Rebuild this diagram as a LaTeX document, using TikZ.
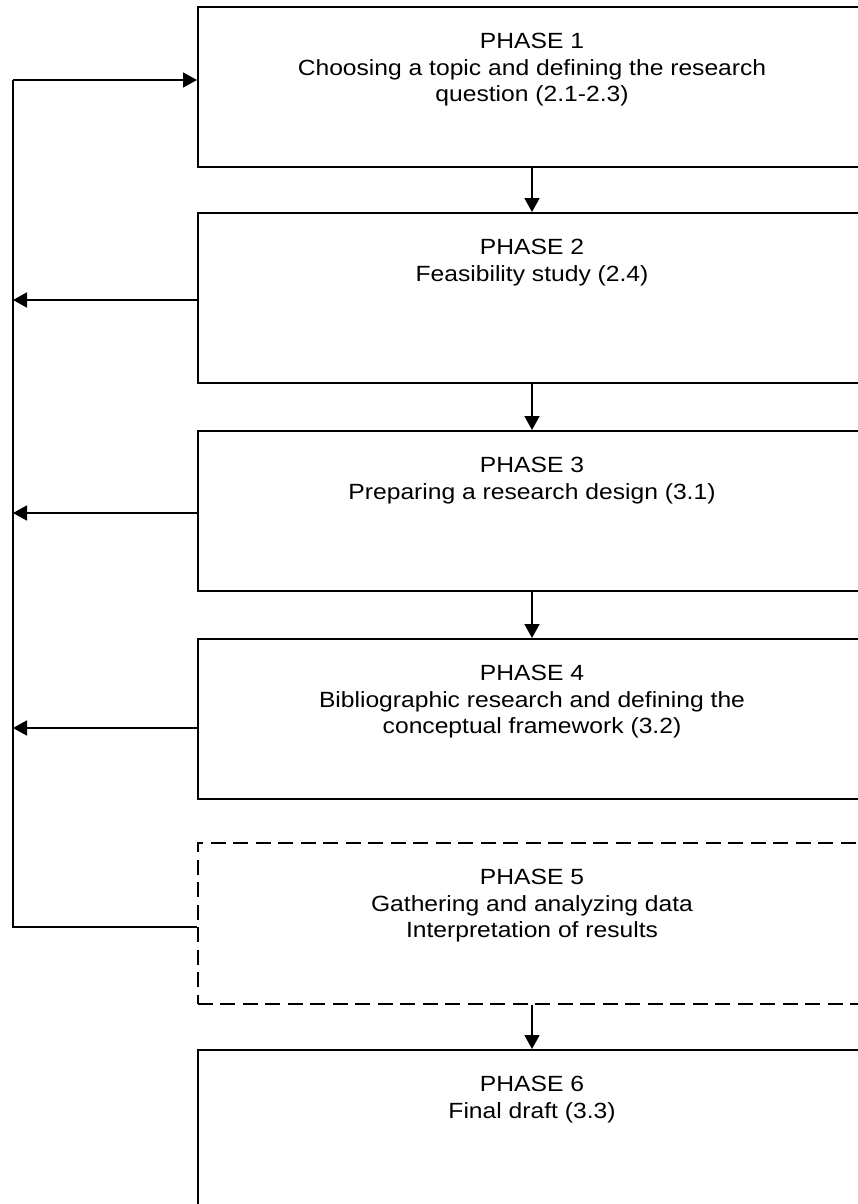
\documentclass[tikz,border=0pt]{standalone}
\usepackage{fontspec}
\setmainfont{Liberation Sans}[FakeStretch=1.12]
\usetikzlibrary{arrows.meta}
\begin{document}
\begin{tikzpicture}[x=1pt,y=-1pt,
  phasebox/.style={draw=black, line width=1.8pt, minimum width=676pt, anchor=north west, inner sep=0pt},
  dashbox/.style={phasebox, dash pattern=on 15pt off 7.5pt},
  phasetext/.style={anchor=north, inner sep=0pt, align=center, font=\fontsize{22}{26.5}\selectfont},
  conn/.style={line width=1.8pt, -{Triangle[length=14pt,width=15pt]}},
  plain/.style={line width=1.8pt}]
\useasboundingbox (0,0) rectangle (858,1204);
\clip (0,0) rectangle (858,1204);
\node[phasebox, minimum height=160pt] (b1) at (197,6) {};
\node[phasebox, minimum height=170pt] (b2) at (197,212) {};
\node[phasebox, minimum height=160pt] (b3) at (197,430) {};
\node[phasebox, minimum height=160pt] (b4) at (197,638) {};
\node[dashbox, minimum height=161pt] (b5) at (197,842) {};
\node[phasebox, minimum height=200pt] (b6) at (197,1049) {};
\node[phasetext] (t1) at (532,33) {PHASE 1\\Choosing a topic and defining the research\\question (2.1-2.3)};
\node[phasetext] (t2) at (532,239) {PHASE 2\\Feasibility study (2.4)};
\node[phasetext] (t3) at (532,457) {PHASE 3\\Preparing a research design (3.1)};
\node[phasetext] (t4) at (532,665) {PHASE 4\\Bibliographic research and defining the\\conceptual framework (3.2)};
\node[phasetext] (t5) at (532,869) {PHASE 5\\Gathering and analyzing data\\Interpretation of results};
\node[phasetext] (t6) at (532,1076) {PHASE 6\\Final draft (3.3)};
% downward arrows
\coordinate (ax) at (532,0);
\draw[conn] (ax |- b1.south) -- (ax |- b2.north);
\draw[conn] (ax |- b2.south) -- (ax |- b3.north);
\draw[conn] (ax |- b3.south) -- (ax |- b4.north);
\draw[conn] (ax |- b5.south) -- (ax |- b6.north);
% feedback loop
\coordinate (l1) at (13,80);
\coordinate (l2) at (13,300);
\coordinate (l3) at (13,513);
\coordinate (l4) at (13,728);
\coordinate (l5) at (13,927);
\draw[plain] (b5.west |- l5) -- (l5) -- (l1);
\draw[conn] (l1) -- (b1.west |- l1);
\draw[conn] (b2.west |- l2) -- (l2);
\draw[conn] (b3.west |- l3) -- (l3);
\draw[conn] (b4.west |- l4) -- (l4);
\end{tikzpicture}
\end{document}
